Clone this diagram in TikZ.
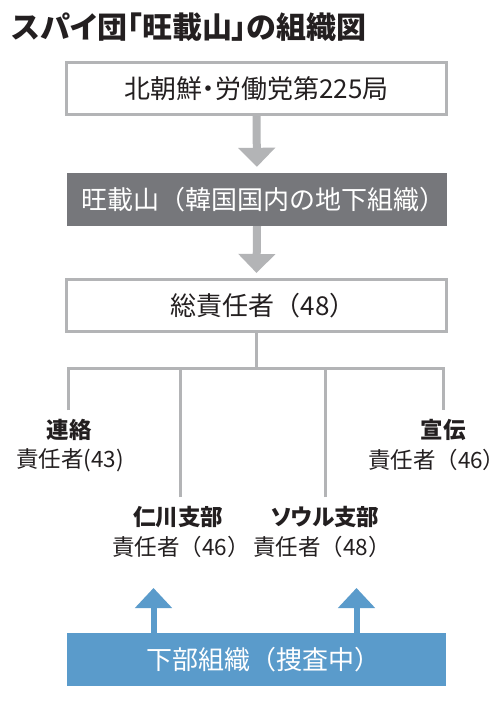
\documentclass[tikz,border=0pt]{standalone}
\usepackage{fontspec}
\setmainfont{Noto Sans CJK JP}
\newfontfamily\jpp[RawFeature=+palt]{Noto Sans CJK JP}
\usetikzlibrary{arrows.meta}
\definecolor{lgray}{HTML}{B3B4B6}
\definecolor{dgray}{HTML}{76777B}
\definecolor{blueb}{HTML}{5A9BCB}
\definecolor{ink}{HTML}{231F20}
\newcommand{\rp}{\makebox[0.5em][l]{）}}
\tikzset{
  wbox/.style={draw=lgray, line width=3pt, fill=white, minimum width=380pt, minimum height=52pt, inner sep=0pt, text=ink, font=\fontsize{26}{30}\selectfont},
  dbox/.style={fill=dgray, minimum width=380pt, minimum height=53pt, inner sep=0pt, text=white, font=\fontsize{26}{30}\selectfont},
  bbox/.style={fill=blueb, minimum width=379pt, minimum height=53pt, inner sep=0pt, text=white, font=\fontsize{26}{30}\selectfont},
  garrow/.style={draw=lgray, line width=8pt, -{Triangle[width=36pt,length=19pt]}},
  barrow/.style={draw=blueb, line width=6pt, -{Triangle[width=36pt,length=20pt]}},
  tree/.style={draw=lgray, line width=3pt},
  lab/.style={inner sep=0pt, text=ink, font=\bfseries\fontsize{22.5}{26}\selectfont},
  sub/.style={inner sep=0pt, text=ink, font=\fontsize{22.5}{26}\selectfont},
}
\begin{document}
\begin{tikzpicture}[x=1pt,y=-1pt]
\useasboundingbox[fill=white] (0,0) rectangle (500,706);
\node[anchor=west, inner sep=0pt, text=ink, font=\jpp\bfseries\fontsize{30}{34}\selectfont] (title) at (12,27) {スパイ団「旺載山」の組織図};
\node[wbox, font=\jpp\fontsize{26}{30}\selectfont] (b1) at (256.5,88.5) {北朝鮮・労働党第225局};
\node[dbox] (b2) at (257,199.5) {旺載山（韓国国内の地下組織\rp};
\node[wbox] (b3) at (256.5,305.5) {総責任者（48\rp};
\node[bbox] (bb) at (256.5,659.5) {下部組織（捜査中\rp};
\draw[garrow, shorten >=6pt] (b1.south) -- (b2.north);
\draw[garrow, shorten >=5pt] (b2.south) -- (b3.north);
% tree
\coordinate (hub) at (256.5,368);
\coordinate (d1) at (68,410);
\coordinate (d2) at (180,497);
\coordinate (d3) at (325,497);
\coordinate (d4) at (443,410);
\draw[tree] (b3.south) -- (hub);
\draw[tree] (d1) |- (hub) -| (d4);
\draw[tree] (d2) -- (d2 |- hub);
\draw[tree] (d3) -- (d3 |- hub);
% labels
\node[lab] (l1) at (69,430) {連絡};
\node[sub] (s1) at (70,460) {責任者(43)};
\node[lab] (l4) at (443,430) {宣伝};
\node[sub, anchor=west] (s4) at (368,460) {責任者（46{\jpp ）}};
\node[lab] (l2) at (178,517) {仁川支部};
\node[sub] (s2) at (181,547) {責任者（46）};
\node[lab, font=\jpp\bfseries\fontsize{22.5}{26}\selectfont] (l3) at (325,517) {ソウル支部};
\node[sub] (s3) at (322,547) {責任者（48）};
% blue arrows
\coordinate (u1) at (153.5,588);
\coordinate (u2) at (356.5,588);
\draw[barrow] (u1 |- bb.north) -- (u1);
\draw[barrow] (u2 |- bb.north) -- (u2);
\end{tikzpicture}
\end{document}
